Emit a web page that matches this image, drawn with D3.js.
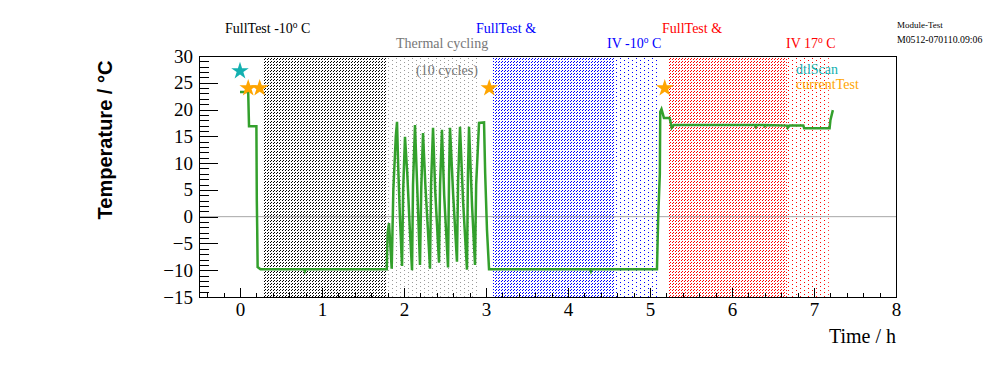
<!doctype html>
<html>
<head>
<meta charset="utf-8">
<title>Module temperature</title>
<script src="https://d3js.org/d3.v7.min.js"></script>
<style>
  body { margin: 0; background: #fff; }
  svg text { font-family: "Liberation Serif", "Times New Roman", serif; }
</style>
</head>
<body>
<svg id="chart" width="996" height="372"></svg>
<script>
// temperature trace: time in hours, temperature in deg C
var timeH = [0.00, 0.10, 0.105, 0.11, 0.195, 0.20, 0.205, 0.21, 0.215, 0.25, 0.78, 0.79, 0.80, 1.79,
  1.80, 1.817, 1.85, 1.87, 1.90, 1.915, 1.93, 1.95, 1.976, 1.99, 2.012, 2.04, 2.07, 2.098, 2.11, 2.134, 2.16, 2.195,
  2.21, 2.232, 2.26, 2.29, 2.317, 2.33, 2.354, 2.38, 2.427, 2.44, 2.463, 2.49, 2.537, 2.55, 2.561, 2.60, 2.646,
  2.66, 2.683, 2.72, 2.768, 2.78, 2.793, 2.83, 2.866, 2.88, 2.915, 2.976, 2.99, 3.012, 3.037,
  4.27, 4.28, 4.29, 5.085, 5.10, 5.12, 5.125, 5.14, 5.16, 5.17, 5.24, 5.25, 5.265, 5.29,
  6.28, 6.29, 6.30, 6.39, 6.40, 6.41, 6.67, 6.68, 6.70, 6.87, 6.88, 7.19, 7.20, 7.23];
var tempC = [23.3, 23.3, 20.0, 16.9, 16.9, 16.9, 3.0, -2.5, -9.4, -9.8, -9.8, -10.2, -9.8, -9.8,
  -3.0, -1.2, -9.7, 5.0, 15.0, 17.7, 9.0, 0.0, -9.2, 5.0, 14.9, 8.0, -2.0, -10.0, 6.0, 17.1, 6.0, -9.0,
  5.0, 15.6, 6.0, -2.0, -9.7, 6.0, 16.6, 5.0, -8.6, 6.0, 16.2, 4.0, -9.5, 8.0, 16.6, 4.0, -8.4,
  7.0, 16.8, 3.0, -9.9, 8.0, 16.8, 2.0, -9.0, 6.0, 17.5, 17.6, 8.0, -2.5, -9.8,
  -9.8, -10.2, -9.8, -9.8, 0.0, 8.0, 19.6, 20.1, 19.0, 18.4, 18.4, 17.7, 16.6, 17.1,
  17.1, 16.8, 17.1, 17.1, 16.9, 17.1, 17.0, 16.6, 17.0, 17.0, 16.5, 16.5, 18.0, 19.9];

// test phases (shaded bands)
var bandStart = [0.28, 1.78, 3.085, 4.57, 5.23, 6.67];
var bandEnd   = [1.78, 2.91, 4.57, 5.085, 6.67, 7.18];
var bandColor = ["#000000", "#999999", "#0000ff", "#0000ff", "#ff0000", "#ff0000"];
var bandStyle = ["hatch", "dots", "hatch", "dots", "hatch", "dots"];

// markers
var dtlScanT = [0.0];
var dtlScanC = [27.2];
var currentTestT = [0.10, 0.24, 3.04, 5.18];
var currentTestC = [24.0, 24.0, 24.0, 24.0];

var xTicks = [0, 1, 2, 3, 4, 5, 6, 7, 8];
var yTicks = [-15, -10, -5, 0, 5, 10, 15, 20, 25, 30];

var svg = d3.select("#chart");
var mLeft = 199, mRight = 896, mTop = 56, mBottom = 297;

var x = d3.scaleLinear().domain([-0.5, 8]).range([mLeft, mRight]);
var y = d3.scaleLinear().domain([-15, 30]).range([mBottom, mTop]);

svg.append("rect").attr("width", 996).attr("height", 372).attr("fill", "#fff");

// fill patterns: broken pixel diagonals and sparse dots
var defs = svg.append("defs");
bandColor.forEach(function (c, i) {
  var p = defs.append("pattern").attr("id", "band" + i).attr("patternUnits", "userSpaceOnUse");
  if (bandStyle[i] === "hatch") {
    p.attr("width", 3).attr("height", 3)
      .append("path")
      .attr("d", "M0,2h1v1h-1zM1,1h1v1h-1z")
      .attr("fill", c)
      .attr("shape-rendering", "crispEdges");
  } else {
    p.attr("width", 8).attr("height", 4)
      .append("path")
      .attr("d", "M0,0h1v1h-1zM4,2h1v1h-1z")
      .attr("fill", c)
      .attr("shape-rendering", "crispEdges");
  }
});

svg.append("g").selectAll("rect")
  .data(bandStart)
  .enter()
  .append("rect")
  .attr("x", (d, i) => x(d))
  .attr("width", (d, i) => x(bandEnd[i]) - x(d))
  .attr("y", y(30))
  .attr("height", y(-15) - y(30))
  .attr("fill", (d, i) => "url(#band" + i + ")");

// zero line
svg.append("line")
  .attr("x1", mLeft).attr("x2", mRight)
  .attr("y1", y(0)).attr("y2", y(0))
  .attr("stroke", "#a8a8a8").attr("stroke-width", 1);

// temperature curve
var line = d3.line()
  .x((d, i) => x(timeH[i]))
  .y((d, i) => y(tempC[i]));
svg.append("path")
  .attr("d", line(timeH))
  .attr("fill", "none")
  .attr("stroke", "#33a02c")
  .attr("stroke-width", 2.5)
  .attr("stroke-linejoin", "miter");

// star markers
var star = d3.symbol().type(d3.symbolStar).size(95);
svg.append("g").selectAll("path")
  .data(dtlScanT)
  .enter()
  .append("path")
  .attr("d", star)
  .attr("transform", (d, i) => "translate(" + x(d) + "," + y(dtlScanC[i]) + ")")
  .attr("fill", "#13b0b0");
svg.append("g").selectAll("path")
  .data(currentTestT)
  .enter()
  .append("path")
  .attr("d", star)
  .attr("transform", (d, i) => "translate(" + x(d) + "," + y(currentTestC[i]) + ")")
  .attr("fill", "#ffa500");

// axes with inward ticks
svg.append("g").attr("transform", "translate(" + mLeft + ",0)")
  .call(d3.axisLeft(y).tickValues(yTicks).tickSize(-19).tickPadding(6).tickFormat(d3.format("d")));
svg.append("g").attr("transform", "translate(" + mLeft + ",0)")
  .call(d3.axisLeft(y).tickValues(d3.range(-15, 31, 1)).tickSize(-10).tickFormat(""));
svg.append("g").attr("transform", "translate(0," + mBottom + ")")
  .call(d3.axisBottom(x).tickValues(xTicks).tickSize(-9).tickPadding(6).tickFormat(d3.format("d")));
svg.append("g").attr("transform", "translate(0," + mBottom + ")")
  .call(d3.axisBottom(x).tickValues(d3.range(-0.4, 8.01, 0.2)).tickSize(-4.5).tickFormat(""));
svg.selectAll(".domain").remove();
svg.selectAll(".tick line").attr("stroke", "#000").attr("shape-rendering", "crispEdges");
svg.selectAll(".tick text")
  .attr("font-family", "Liberation Serif, serif")
  .attr("font-size", 19)
  .attr("fill", "#000");

// frame
svg.append("rect")
  .attr("x", mLeft).attr("y", mTop)
  .attr("width", mRight - mLeft).attr("height", mBottom - mTop)
  .attr("fill", "none").attr("stroke", "#000").attr("stroke-width", 1)
  .attr("shape-rendering", "crispEdges");

// axis titles
svg.append("text")
  .attr("x", mRight).attr("y", 343)
  .attr("text-anchor", "end")
  .attr("font-size", 20)
  .text("Time / h");
svg.append("text")
  .attr("transform", "translate(112,140) rotate(-90)")
  .attr("text-anchor", "middle")
  .attr("font-weight", "bold")
  .attr("font-size", 20)
  .style("font-family", "'Liberation Sans', Arial, sans-serif")
  .text("Temperature / °C");

// phase annotations
function label(px, py, color, parts) {
  var t = svg.append("text").attr("x", px).attr("y", py).attr("font-size", 14).attr("fill", color);
  parts.forEach(function (p) {
    if (p.sup) {
      t.append("tspan").attr("dy", -5).attr("font-size", 9.5).text(p.sup);
    } else {
      t.append("tspan").attr("dy", p.after ? 5 : 0).text(p.t);
    }
  });
}
label(225, 33, "#000", [{ t: "FullTest -10" }, { sup: "o" }, { t: "\u00a0C", after: true }]);
label(396, 48, "#777", [{ t: "Thermal cycling" }]);
label(416, 75, "#777", [{ t: "(10 cycles)" }]);
label(476, 33, "#0000ff", [{ t: "FullTest &" }]);
label(607, 48, "#0000ff", [{ t: "IV -10" }, { sup: "o" }, { t: "\u00a0C", after: true }]);
label(662, 33, "#ff0000", [{ t: "FullTest &" }]);
label(786, 48, "#ff0000", [{ t: "IV 17" }, { sup: "o" }, { t: "\u00a0C", after: true }]);

// legend
svg.append("text").attr("x", 796).attr("y", 74).attr("font-size", 14).attr("fill", "#13b0b0").text("dtlScan");
svg.append("text").attr("x", 796).attr("y", 89).attr("font-size", 14).attr("fill", "#ffa500").text("currentTest");

// run info
svg.append("text").attr("x", 897).attr("y", 28).attr("font-size", 9).text("Module-Test");
svg.append("text").attr("x", 897).attr("y", 43).attr("font-size", 9.8).text("M0512-070110.09:06");
</script>
</body>
</html>
